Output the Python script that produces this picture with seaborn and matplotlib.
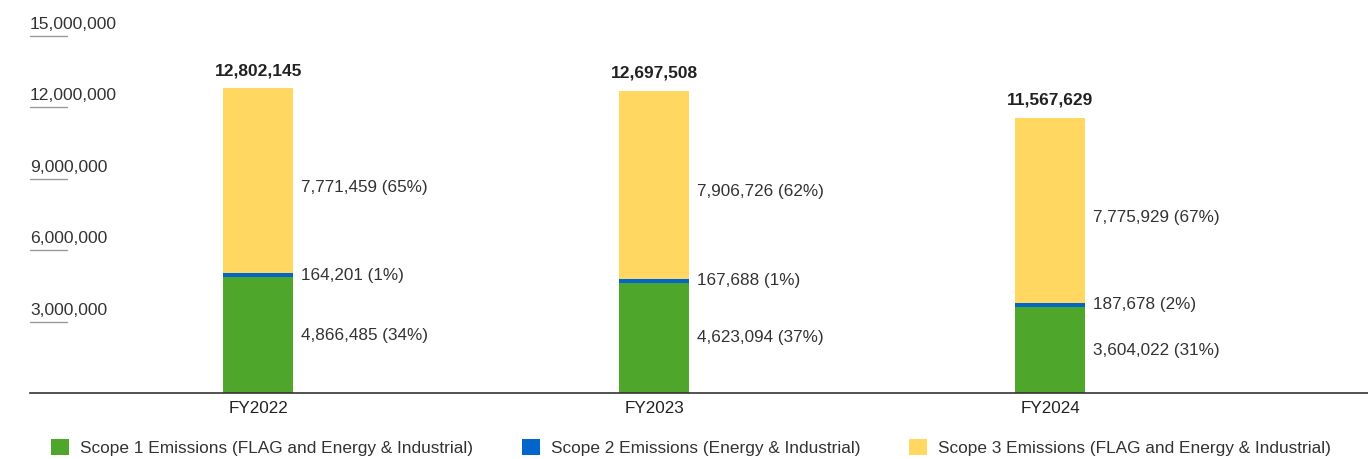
import pandas as pd
import matplotlib.pyplot as plt
import matplotlib.transforms as mtransforms
from matplotlib.patches import Patch
import seaborn as sns

# data
years = ["FY2022", "FY2023", "FY2024"]
scope1 = [4866485, 4623094, 3604022]
scope2 = [164201, 167688, 187678]
scope3 = [7771459, 7906726, 7775929]
pct1 = [34, 37, 31]
pct2 = [1, 1, 2]
pct3 = [65, 62, 67]
yticks = [3000000, 6000000, 9000000, 12000000, 15000000]

labels = ["Scope 1 Emissions (FLAG and Energy & Industrial)",
          "Scope 2 Emissions (Energy & Industrial)",
          "Scope 3 Emissions (FLAG and Energy & Industrial)"]
colors = ["#4ea72a", "#0066cc", "#ffd761"]

df = pd.DataFrame({"year": years, "s1": scope1, "s2": scope2, "s3": scope3})
df["s12"] = df["s1"] + df["s2"]
df["total"] = df["s12"] + df["s3"]

sns.set_style("white")
plt.rcParams["font.family"] = ["Liberation Sans", "DejaVu Sans"]

fig = plt.figure(figsize=(13.68, 4.59), dpi=100)
ax = fig.add_axes([30 / 1368, 66 / 459, 1 - 30 / 1368, 360 / 459])

# cumulative bars drawn top-down so they stack
w = 0.177
sns.barplot(data=df, x="year", y="total", color=colors[2], width=w, ax=ax, saturation=1, linewidth=0)
sns.barplot(data=df, x="year", y="s12", color=colors[1], width=w, ax=ax, saturation=1, linewidth=0)
sns.barplot(data=df, x="year", y="s1", color=colors[0], width=w, ax=ax, saturation=1, linewidth=0)

ax.set_xlim(-0.576, 2.803)
ax.set_ylim(0, 15120000)
ax.set_xlabel("")
ax.set_ylabel("")
ax.set_yticks([])
ax.tick_params(axis="x", length=0, labelsize=12.3, colors="#222222", pad=6)

for s in ["top", "left", "right"]:
    ax.spines[s].set_visible(False)
ax.spines["bottom"].set_color("#333333")
ax.spines["bottom"].set_linewidth(1.2)

# y labels sitting on short grey strokes
trans = mtransforms.blended_transform_factory(ax.transAxes, ax.transData)
for t in yticks:
    ax.plot([0, 37 / 1338], [t, t], color="#999999", lw=1, transform=trans, clip_on=False)
    ax.annotate(f"{t:,}", xy=(0, t), xycoords=trans, xytext=(0, 5), textcoords="offset points",
                ha="left", va="baseline", fontsize=12.6, color="#333333", annotation_clip=False)

# segment and total labels
xoff = w / 2 + 0.02
for i in range(len(years)):
    ax.text(i + xoff, scope1[i] / 2, f"{scope1[i]:,} ({pct1[i]}%)", va="center",
            ha="left", fontsize=12.3, color="#333333")
    ax.text(i + xoff, scope1[i] + scope2[i] / 2, f"{scope2[i]:,} ({pct2[i]}%)",
            va="center", ha="left", fontsize=12.3, color="#333333")
    ax.text(i + xoff, df["s12"][i] + scope3[i] / 2 - 300000, f"{scope3[i]:,} ({pct3[i]}%)",
            va="center", ha="left", fontsize=12.3, color="#333333")
    ax.text(i, df["total"][i] + 420000, f"{df['total'][i]:,}", ha="center", va="bottom",
            fontsize=12.5, fontweight="bold", color="#222222")

handles = [Patch(facecolor=c, edgecolor="none") for c in colors]
fig.legend(handles, labels, loc="center", bbox_to_anchor=(691 / 1368, 0.025), ncol=3,
           frameon=False, fontsize=12.4, handlelength=1.05, handleheight=1.05,
           handletextpad=0.65, columnspacing=2.8, labelcolor="#333333",
           borderpad=0, borderaxespad=0)

fig.savefig("out.png", dpi=100)
